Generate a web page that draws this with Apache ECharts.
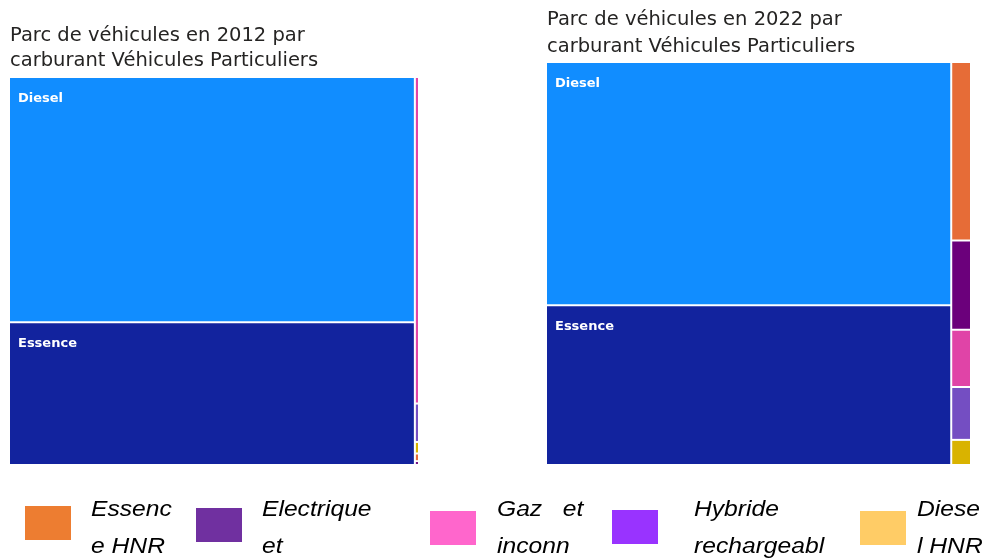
<!DOCTYPE html>
<html lang="fr">
<head>
<meta charset="UTF-8">
<title>Parc de véhicules par carburant</title>
<script src="https://cdn.jsdelivr.net/npm/echarts@6/dist/echarts.min.js"></script>
<style>
  html, body { margin: 0; padding: 0; background: #fff; }
  #main { width: 986px; height: 559px; }
</style>
</head>
<body>
<div id="main"></div>
<script>
// carburants (ordre des couleurs Power BI)
var categories = ['Diesel', 'Essence', 'Essence HNR', 'Electrique et hydrogène', 'Gaz et inconnu', 'Hybride rechargeable', 'Diesel HNR'];
// part du parc (%)
var values2012 = [62.6, 36.4, 0.02, 0.01, 0.85, 0.1, 0.03];
var values2022 = [57.5, 37.8, 2.06, 1.03, 0.66, 0.61, 0.29];
var cellColors = ['#118DFF', '#12239E', '#E66C37', '#6B007B', '#E044A7', '#744EC2', '#D9B300'];

// légende du bas (texte coupé tel que dans l'image)
var legendLines = [['Essenc', 'e HNR'], ['Electrique', 'et'], ['Gaz   et', 'inconn'], ['Hybride', 'rechargeabl'], ['Diese', 'l HNR']];
var legendColors = ['#ED7D31', '#7030A0', '#FF66CC', '#9933FF', '#FFCC66'];

function titleStyle(lh) {
  return { fontFamily: 'DejaVu Sans', fontSize: 19.5, fontWeight: 'normal', color: '#252423', lineHeight: lh };
}

function buildData(values) {
  return categories.map(function (name, i) {
    return {
      name: name,
      value: values[i],
      itemStyle: { color: cellColors[i] },
      label: { show: i < 2 }
    };
  });
}

function treemapSeries(values, box) {
  return {
    type: 'treemap',
    left: box[0], top: box[1], width: box[2], height: box[3],
    roam: false,
    nodeClick: false,
    breadcrumb: { show: false },
    visibleMin: 0,
    itemStyle: { borderWidth: 0, gapWidth: 2 },
    label: {
      position: [3, 9],
      color: '#fff',
      fontFamily: 'DejaVu Sans',
      fontSize: 13,
      fontWeight: 'bold'
    },
    emphasis: { disabled: true },
    data: buildData(values)
  };
}

var graphics = [];
var swatchX = [25, 196, 430, 612, 860];
var swatchY = [506, 508, 511, 510, 511];
var textX = [91, 262, 497, 694, 917];
legendLines.forEach(function (lines, i) {
  graphics.push({
    type: 'rect',
    shape: { x: swatchX[i], y: swatchY[i], width: 46, height: 34 },
    style: { fill: legendColors[i] }
  });
  graphics.push({
    type: 'text',
    x: textX[i], y: 491,
    scaleX: 1.12,
    style: {
      text: lines.join('\n'),
      fontFamily: 'Liberation Sans',
      fontStyle: 'italic',
      fontSize: 22,
      lineHeight: 37,
      fill: '#000'
    }
  });
});

var myChart = echarts.init(document.getElementById('main'));
var option = {
  animation: false,
  title: [
    { text: 'Parc de véhicules en 2012 par\ncarburant Véhicules Particuliers', left: 6, top: 23, padding: [0, 4], textStyle: titleStyle(25) },
    { text: 'Parc de véhicules en 2022 par\ncarburant Véhicules Particuliers', left: 543, top: 6, padding: [0, 4], textStyle: titleStyle(27) }
  ],
  tooltip: { show: false },
  series: [
    treemapSeries(values2012, [10, 78, 408, 386]),
    treemapSeries(values2022, [547, 63, 423, 401])
  ],
  graphic: graphics
};
myChart.setOption(option);
</script>
</body>
</html>
